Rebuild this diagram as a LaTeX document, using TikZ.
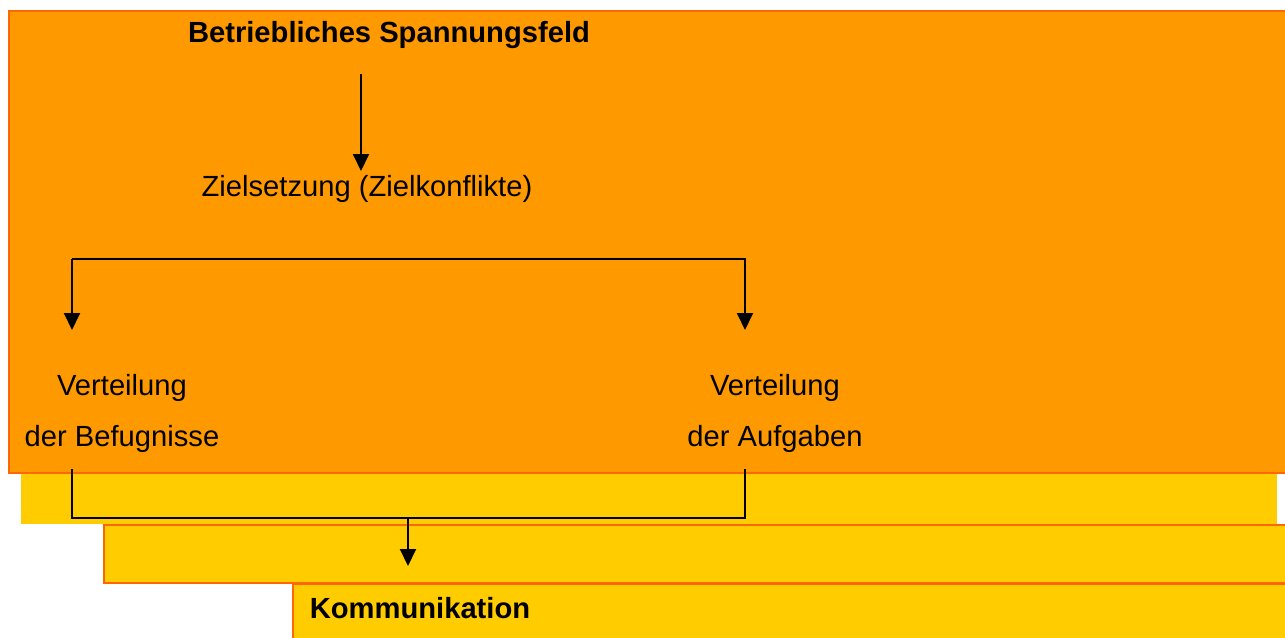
\documentclass[tikz,border=0pt]{standalone}
\usepackage{fontspec}
\setmainfont{Liberation Sans}
\usetikzlibrary{arrows.meta,positioning}
\definecolor{feldorange}{HTML}{FF9900}
\definecolor{randorange}{HTML}{FF6600}
\definecolor{feldgelb}{HTML}{FFCC00}

\begin{document}
\begin{tikzpicture}[x=0.02cm, y=-0.02cm,
    feld/.style={fill=feldorange, draw=randorange, line width=1.3pt},
    streifen/.style={fill=feldgelb, draw=randorange, line width=1.3pt},
    txt/.style={font=\fontsize{16.6}{29}\selectfont, inner sep=0pt, align=center},
    titel/.style={txt, font=\fontsize{16.6}{29}\selectfont\bfseries},
    arrow/.style={-{Triangle[length=0.34cm,width=0.32cm]}, line width=1.1pt},
    line/.style={line width=1.1pt}
]
\useasboundingbox (0,0) rectangle (1285,637);

% Background strips
\draw[streifen] (293,584) rectangle (1295,645);
\draw[streifen] (104,525) rectangle (1295,583);
\fill[feldgelb] (21,474) rectangle (1277,524);
\draw[feld] (9,11) rectangle (1295,473);

% Texts
\node[titel] (spannung) at (389,35) {Betriebliches Spannungsfeld};
\node[txt] (ziel) at (367,189) {Zielsetzung (Zielkonflikte)};
\node[txt] (befugnis) at (122,413) {Verteilung\\der Befugnisse};
\node[txt] (aufgaben) at (775,413) {Verteilung\\der Aufgaben};
\node[titel] (komm) at (420,608) {Kommunikation};

% Connection points
\coordinate (zielein) at (361,74);
\coordinate (zielaus) at (361,171);
\coordinate (befoben) at (72,330);
\coordinate (aufoben) at (745,330);
\coordinate (befunten) at (72,469);
\coordinate (aufunten) at (745,469);
\coordinate (mitte) at (408,518);
\coordinate (kommein) at (408,566);

% Relationships
\draw[arrow] (zielein) -- (zielaus);
\draw[arrow] (72,259) -- (befoben);
\draw[arrow] (72,259) -- (745,259) -- (aufoben);
\draw[line] (befunten) |- (mitte) -| (aufunten);
\draw[arrow] (mitte) -- (kommein);

\end{tikzpicture}
\end{document}
